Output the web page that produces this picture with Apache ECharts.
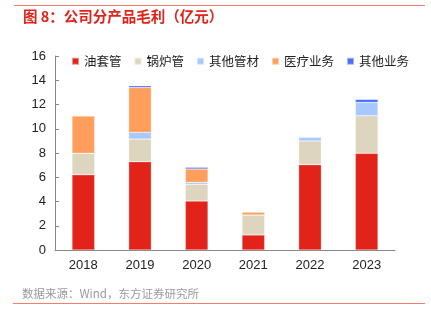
<!DOCTYPE html>
<html><head><meta charset="utf-8">
<script src="https://cdn.jsdelivr.net/npm/echarts@6/dist/echarts.min.js"></script>
<style>html,body{margin:0;padding:0;background:#fff}#c{width:431px;height:322px}</style>
</head><body><div id="c"></div>
<script>
const categories = ['2018','2019','2020','2021','2022','2023'];
const seriesNames = ['油套管','锅炉管','其他管材','医疗业务','其他业务'];
const oilPipe   = [6.2, 7.28, 4.04, 1.24, 7.04, 7.97];
const boilerPipe = [1.78, 1.87, 1.38, 1.65, 1.95, 3.1];
const otherPipe = [0, 0.55, 0.16, 0, 0.3, 1.1];
const medical   = [3.08, 3.7, 1.1, 0.24, 0, 0];
const otherBiz  = [0, 0.15, 0.14, 0, 0.05, 0.25];
const yTicks = [0, 2, 4, 6, 8, 10, 12, 14, 16];
const colors = ['#E2231A', '#DED5BF', '#A8C9FF', '#FF9F5B', '#4A6CFF'];
const values = [oilPipe, boilerPipe, otherPipe, medical, otherBiz];

const chart = echarts.init(document.getElementById('c'));
chart.setOption({
  animation: false,
  graphic: [
    {type:'line', shape:{x1:14,y1:5.5,x2:425,y2:5.5}, style:{stroke:'#F07C74', lineWidth:1.2}},
    {type:'text', left:23, top:9, style:{text:'图 8：公司分产品毛利（亿元）', fill:'#E2231A', font:'bold 14.5px "Noto Sans CJK SC"'}},
    {type:'text', left:22, top:288, style:{text:'数据来源：Wind，东方证券研究所', fill:'#9a9a9a', font:'11.5px "Noto Sans CJK SC"'}},
    {type:'line', shape:{x1:13,y1:303.5,x2:425,y2:303.5}, style:{stroke:'#F07C74', lineWidth:1.2}}
  ],
  legend: {
    data: seriesNames, left: 66, top: 50, itemWidth: 7, itemHeight: 7, itemGap: 12,
    icon: 'rect',
    textStyle: {fontSize: 12.5, color: '#222', fontFamily: '"Noto Sans CJK SC"'}
  },
  grid: {left: 55, right: 36, top: 56, bottom: 72, containLabel: false},
  xAxis: {
    type: 'category', data: categories,
    axisLine: {lineStyle: {color: '#888'}},
    axisTick: {inside: true, length: 4, lineStyle: {color: '#888'}},
    axisLabel: {fontSize: 13, color: '#222', margin: 9, fontFamily: 'Liberation Sans'}
  },
  yAxis: {
    type: 'value', min: 0, max: 16, interval: 2,
    axisLine: {show: true, lineStyle: {color: '#888'}},
    axisTick: {show: true, inside: true, length: 4, lineStyle: {color: '#888'}},
    splitLine: {show: false},
    axisLabel: {fontSize: 13, color: '#222', margin: 9, fontFamily: 'Liberation Sans',
      formatter: v => yTicks.includes(v) ? String(v) : ''}
  },
  series: seriesNames.map((n, i) => ({
    name: n, type: 'bar', stack: 'total', data: values[i], barWidth: '40%',
    itemStyle: {color: colors[i], borderColor: 'rgba(255,255,255,0.5)', borderWidth: 0.5}
  }))
});
</script></body></html>
